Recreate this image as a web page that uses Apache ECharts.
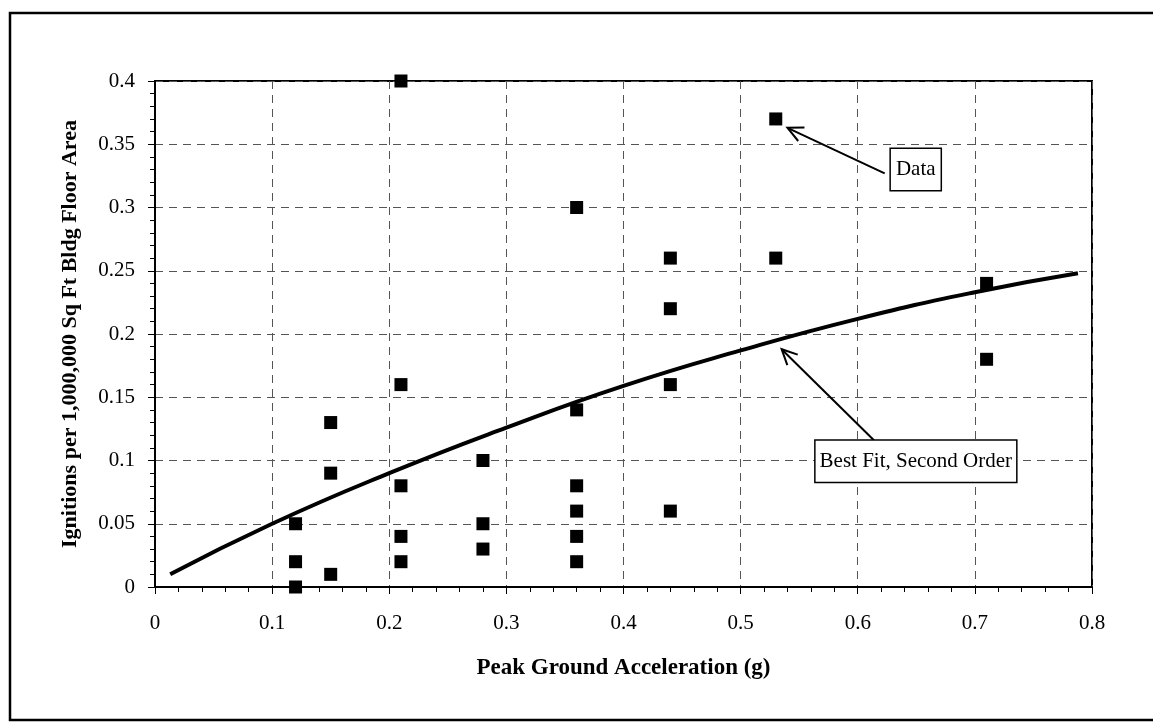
<!DOCTYPE html>
<html>
<head>
<meta charset="utf-8">
<script src="https://cdn.jsdelivr.net/npm/echarts@6/dist/echarts.min.js"></script>
<style>
  html, body { margin: 0; padding: 0; background: #fff; }
  #chart { width: 1153px; height: 722px; }
</style>
</head>
<body>
<div id="chart"></div>
<script>
// observed ignition rates, grouped by PGA
var pgaData = [0.12, 0.12, 0.12, 0.15, 0.15, 0.15, 0.21, 0.21, 0.21, 0.21, 0.21,
               0.28, 0.28, 0.28, 0.36, 0.36, 0.36, 0.36, 0.36, 0.36,
               0.44, 0.44, 0.44, 0.44, 0.53, 0.53, 0.71, 0.71];
var ignitionData = [0.05, 0.02, 0.00, 0.13, 0.09, 0.01, 0.40, 0.16, 0.08, 0.04, 0.02,
                    0.10, 0.05, 0.03, 0.30, 0.14, 0.08, 0.06, 0.04, 0.02,
                    0.26, 0.22, 0.16, 0.06, 0.37, 0.26, 0.24, 0.18];

// best fit curve
var fitX = [0.013, 0.1, 0.2, 0.3, 0.4, 0.5, 0.6, 0.7, 0.788];
var fitY = [0.010, 0.050, 0.090, 0.126, 0.159, 0.187, 0.212, 0.233, 0.248];

var xTitle = 'Peak Ground Acceleration (g)';
var yTitle = 'Ignitions per 1,000,000 Sq Ft Bldg Floor Area';

var serifFont = '"Liberation Serif", "Times New Roman", serif';

var scatterPts = [];
for (var i = 0; i < pgaData.length; i++) {
    scatterPts.push([pgaData[i], ignitionData[i]]);
}
var fitPts = [];
for (var j = 0; j < fitX.length; j++) {
    fitPts.push([fitX[j], fitY[j]]);
}

var myChart = echarts.init(document.getElementById('chart'));

var option = {
    animation: false,
    backgroundColor: '#fff',
    grid: {
        left: 155, right: 61, top: 81, bottom: 135,
        show: true,
        borderColor: '#000',
        borderWidth: 2
    },
    xAxis: {
        type: 'value',
        min: 0, max: 0.8, interval: 0.1,
        name: xTitle,
        nameLocation: 'middle',
        nameGap: 70,
        nameTextStyle: { fontFamily: serifFont, fontWeight: 'bold', fontSize: 23, color: '#000' },
        axisLine: { show: true, onZero: false, lineStyle: { color: '#000', width: 2 } },
        axisTick: { show: true, length: 7, lineStyle: { color: '#000', width: 1 } },
        minorTick: { show: true, splitNumber: 5, length: 5, lineStyle: { color: '#000', width: 1 } },
        axisLabel: {
            margin: 26, fontFamily: serifFont, fontSize: 21, color: '#000',
            formatter: function (v) { return String(+v.toFixed(2)); }
        },
        splitLine: { show: true, lineStyle: { color: '#555', type: [8, 6], width: 1 } }
    },
    yAxis: {
        type: 'value',
        min: 0, max: 0.4, interval: 0.05,
        name: yTitle,
        nameLocation: 'middle',
        nameGap: 74,
        nameRotate: 90,
        nameTextStyle: { fontFamily: serifFont, fontWeight: 'bold', fontSize: 22, color: '#000' },
        axisLine: { show: true, onZero: false, lineStyle: { color: '#000', width: 2 } },
        axisTick: { show: true, length: 7, lineStyle: { color: '#000', width: 1 } },
        minorTick: { show: true, splitNumber: 5, length: 5, lineStyle: { color: '#000', width: 1 } },
        axisLabel: {
            margin: 20, fontFamily: serifFont, fontSize: 21, color: '#000',
            formatter: function (v) { return String(+v.toFixed(2)); }
        },
        splitLine: { show: true, lineStyle: { color: '#555', type: [8, 6], width: 1 } }
    },
    series: [
        {
            name: 'Best Fit, Second Order',
            type: 'line',
            data: fitPts,
            smooth: true,
            showSymbol: false,
            lineStyle: { color: '#000', width: 4 },
            z: 3
        },
        {
            name: 'Data',
            type: 'scatter',
            data: scatterPts,
            symbol: 'rect',
            symbolSize: 13,
            itemStyle: { color: '#000', opacity: 1 },
            z: 4
        }
    ]
};

myChart.setOption(option);

// annotation boxes with open-headed arrows, anchored in data coordinates
function arrowGraphics(tip, tail) {
    var p1 = myChart.convertToPixel({ gridIndex: 0 }, tip);
    var p0 = myChart.convertToPixel({ gridIndex: 0 }, tail);
    var dx = p0[0] - p1[0], dy = p0[1] - p1[1];
    var len = Math.sqrt(dx * dx + dy * dy);
    var ux = dx / len, uy = dy / len;
    var headLen = 17, ang = 0.45;
    var c = Math.cos(ang), s = Math.sin(ang);
    var a1 = [p1[0] + headLen * (ux * c - uy * s), p1[1] + headLen * (ux * s + uy * c)];
    var a2 = [p1[0] + headLen * (ux * c + uy * s), p1[1] + headLen * (-ux * s + uy * c)];
    return [
        { type: 'line', shape: { x1: p0[0], y1: p0[1], x2: p1[0], y2: p1[1] },
          style: { stroke: '#000', lineWidth: 2 }, z: 10 },
        { type: 'polyline', shape: { points: [a1, p1, a2] },
          style: { stroke: '#000', lineWidth: 2, fill: null }, z: 10 }
    ];
}

function labelBox(center, text, padding) {
    var p = myChart.convertToPixel({ gridIndex: 0 }, center);
    return {
        type: 'text',
        x: p[0], y: p[1],
        z: 11,
        style: {
            text: text,
            font: '21px ' + serifFont,
            fill: '#000',
            align: 'center',
            verticalAlign: 'middle',
            backgroundColor: '#fff',
            borderColor: '#000',
            borderWidth: 1.5,
            padding: padding
        }
    };
}

var graphics = [];
graphics = graphics.concat(arrowGraphics([0.54, 0.363], [0.623, 0.327]));
graphics = graphics.concat(arrowGraphics([0.535, 0.188], [0.616, 0.114]));
graphics.push(labelBox([0.6495, 0.330], 'Data', [11, 5, 9, 5]));
graphics.push(labelBox([0.6496, 0.0995], 'Best Fit, Second Order', [11, 4, 9, 4]));
// outer frame of the figure
graphics.push({
    type: 'rect',
    shape: { x: 10, y: 13, width: 1160, height: 707 },
    style: { fill: null, stroke: '#000', lineWidth: 2.5 },
    z: 0
});

myChart.setOption({ graphic: graphics });
window.addEventListener('resize', myChart.resize);
</script>
</body>
</html>
